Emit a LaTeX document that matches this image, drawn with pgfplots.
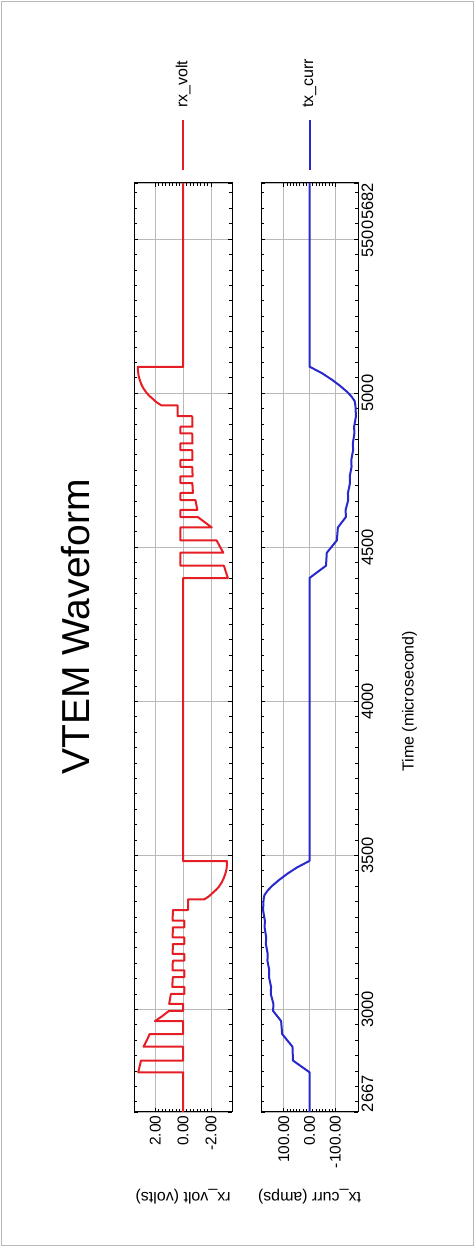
\documentclass[border=0pt]{standalone}
\usepackage{fontspec}
\setmainfont{Liberation Sans}
\usepackage{pgfplots}
\usepackage{pgfplotstable}
\pgfplotsset{compat=1.18}

\definecolor{voltred}{RGB}{228,30,36}
\definecolor{currblue}{RGB}{40,40,205}

% receiver voltage (t in microseconds, v in volts)
\pgfplotstableread{
t v
2667 0
2796 0
2796 3.22
2815 3.12
2834 3.02
2834 0
2879 0
2879 2.84
2900 2.60
2920 2.40
2920 0
2962 0
2962 2.02
2978 1.50
2995 1.02
2995 0
3018 0
3018 1.00
3050 0.88
3050 -0.08
3073 -0.08
3073 0.78
3105 0.74
3105 -0.08
3127 -0.08
3127 0.76
3158 0.74
3158 -0.08
3180 -0.08
3180 0.75
3212 0.74
3212 -0.08
3234 -0.08
3234 0.75
3266 0.74
3266 -0.08
3288 -0.08
3288 0.75
3322 0.74
3322 -0.35
3357 -0.35
3357 -1.51
3367 -1.85
3377 -2.09
3388 -2.36
3398 -2.56
3412 -2.76
3426 -2.91
3440 -3.02
3453 -3.10
3466 -3.13
3481 -3.14
3481 0
4400 0
4400 -3.20
4420 -3.06
4440 -2.92
4440 0.20
4482 0.20
4482 -2.88
4503 -2.62
4522 -2.40
4522 0.20
4564 0.20
4564 -2.05
4581 -1.55
4598 -1.05
4598 0.20
4621 0.20
4621 -1.02
4653 -0.88
4653 0.20
4676 0.20
4676 -0.70
4708 -0.66
4708 0.20
4730 0.20
4730 -0.68
4761 -0.65
4761 0.20
4783 0.20
4783 -0.67
4815 -0.65
4815 0.20
4837 0.20
4837 -0.67
4869 -0.65
4869 0.20
4891 0.20
4891 -0.67
4925 -0.65
4925 0.40
4960 0.40
4960 1.55
4970 1.90
4980 2.14
4991 2.42
5001 2.62
5015 2.84
5029 3.00
5043 3.11
5056 3.19
5069 3.23
5085 3.25
5085 0
5682 0
}\voltdata

% transmitter current (t in microseconds, i in amps)
\pgfplotstableread{
t i
2667 0
2796 0
2834 64
2879 66
2920 106
2962 110
2995 141
3018 140
3050 150
3073 149
3105 157
3127 156
3158 163
3180 162
3212 169
3234 168
3266 174
3288 173
3322 180
3357 178
3370 175
3385 163
3400 146
3420 118
3440 86
3460 50
3482 0
4400 0
4440 -64
4482 -67
4522 -106
4564 -110
4598 -141
4621 -140
4653 -150
4676 -149
4708 -157
4730 -156
4761 -163
4783 -162
4815 -169
4837 -168
4869 -174
4891 -173
4925 -180
4960 -178
4974 -175
4989 -163
5004 -146
5024 -118
5044 -86
5064 -50
5086 0
5682 0
}\currdata

\pgfplotsset{
  panel/.style={
    scale only axis,
    height=929pt,
    ymin=2667, ymax=5682,
    ytick={2667,3000,3500,4000,4500,5000,5500,5682},
    minor ytick={2700,2750,...,5650},
    x dir=reverse,
    minor x tick num=7,
    grid=major,
    major grid style={gray!55, line width=0.8pt},
    tick style={black, line width=0.7pt},
    major tick length=4pt,
    minor tick length=3pt,
    axis line style={black, line width=1pt},
    tick label style={font=\fontsize{15.5}{18}\selectfont},
    /pgf/number format/assume math mode=true,
    xticklabel style={rotate=90, anchor=east,
      /pgf/number format/fixed, /pgf/number format/fixed zerofill,
      /pgf/number format/precision=2, /pgf/number format/1000 sep={}},
    every axis x label/.style={at={(axis description cs:0.5,-0.0915)},
      anchor=center, rotate=180, font=\fontsize{16}{19}\selectfont},
  },
}

\begin{document}
\begin{tikzpicture}[x=1pt,y=1pt]
\path (0,0) rectangle (475,1247);
\draw[gray!55, line width=1pt] (1.5,1.5) rectangle (473.5,1245.5);

\node[rotate=90, font=\fontsize{39}{44}\selectfont] at (76,620) {VTEM Waveform};

% receiver voltage panel
\begin{axis}[panel,
  name=volt,
  at={(134.3pt,135pt)}, anchor=south west,
  width=97.7pt,
  xmin=-3.5, xmax=3.5,
  xtick={-2,0,2},
  yticklabels={},
  xlabel={rx\_volt (volts)},
]
\addplot[voltred, line width=2pt, line join=round, no markers] table[x=v, y=t] {\voltdata};
\end{axis}

% transmitter current panel
\begin{axis}[panel,
  name=curr,
  at={(261pt,135pt)}, anchor=south west,
  width=97pt,
  xmin=-188, xmax=188,
  xtick={-100,0,100},
  yticklabel pos=right,
  yticklabels={\rlap{2667},3000,3500,4000,4500,5000,5500,\llap{5682}},
  yticklabel style={rotate=90, anchor=north, font=\fontsize{16.5}{19}\selectfont},
  xlabel={tx\_curr (amps)},
  ylabel={Time (microsecond)},
  every axis y label/.style={at={(axis description cs:1.531,0.4421)},
    anchor=center, rotate=90, font=\fontsize{16}{19}\selectfont},
]
\addplot[currblue, line width=2pt, line join=round, no markers] table[x=i, y=t] {\currdata};
\end{axis}

% legend
\draw[voltred, line width=2pt] ([yshift=13pt]volt.north) -- ([yshift=63pt]volt.north);
\node[rotate=90, anchor=west, inner sep=0pt, font=\fontsize{16}{19}\selectfont]
  at ([yshift=75pt]volt.north) {rx\_volt};
\draw[currblue, line width=2pt] ([yshift=13pt]curr.north) -- ([yshift=63pt]curr.north);
\node[rotate=90, anchor=west, inner sep=0pt, font=\fontsize{16}{19}\selectfont]
  at ([yshift=75pt]curr.north) {tx\_curr};
\end{tikzpicture}
\end{document}
